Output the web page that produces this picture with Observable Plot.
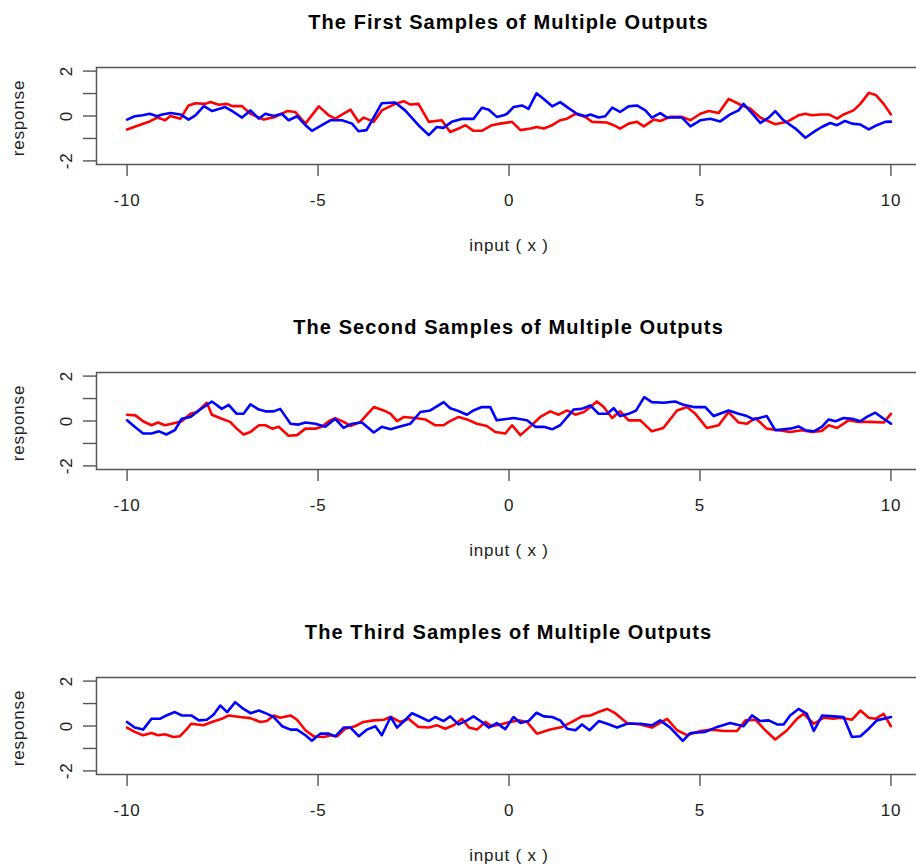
<!DOCTYPE html>
<html>
<head>
<meta charset="utf-8">
<script src="https://cdn.jsdelivr.net/npm/d3@7"></script>
<script src="https://cdn.jsdelivr.net/npm/@observablehq/plot@0.6"></script>
<style>
  html, body { margin: 0; padding: 0; background: #fff; width: 916px; height: 866px; overflow: hidden; }
  .panel { position: relative; width: 916px; height: 305px; overflow: hidden; }
  .title { position: absolute; left: 96px; top: 0; width: 825px; height: 45px;
           font: bold 20px "Liberation Sans", Arial, sans-serif; line-height: 45px;
           text-align: center; letter-spacing: 1.1px; color: #000; }
  .chart { position: absolute; left: 0; top: 45px; max-width: none !important; }
</style>
</head>
<body>
<div id="root"></div>
<script>
const titles = [
  "The First Samples of Multiple Outputs",
  "The Second Samples of Multiple Outputs",
  "The Third Samples of Multiple Outputs"
];
const xTicks = [-10, -5, 0, 5, 10];
const yTicks = [-2, -1, 0, 1, 2];
const yTickLabels = [-2, 0, 2];
const xLabel = "input ( x )";
const yLabel = "response";

const p1Red = [[-10,-0.6],[-9.43,-0.26],[-9.21,-0.07],[-9.0,-0.19],[-8.87,0],[-8.6,-0.12],[-8.39,0.47],[-8.21,0.57],[-7.95,0.54],[-7.82,0.62],[-7.6,0.5],[-7.38,0.54],[-7.25,0.44],[-6.99,0.44],[-6.77,0.1],[-6.42,-0.16],[-6.12,-0.04],[-5.81,0.22],[-5.6,0.18],[-5.33,-0.34],[-4.98,0.43],[-4.72,0.03],[-4.55,-0.12],[-4.15,0.28],[-3.94,-0.26],[-3.8,-0.07],[-3.54,-0.26],[-3.33,0.25],[-2.98,0.54],[-2.76,0.66],[-2.58,0.51],[-2.37,0.54],[-2.1,-0.26],[-1.76,-0.19],[-1.54,-0.71],[-1.32,-0.56],[-1.14,-0.41],[-0.93,-0.66],[-0.71,-0.66],[-0.45,-0.41],[-0.23,-0.34],[0.08,-0.26],[0.3,-0.63],[0.56,-0.56],[0.73,-0.49],[0.91,-0.56],[1.13,-0.41],[1.34,-0.19],[1.52,-0.12],[1.74,0.1],[2.0,-0.04],[2.17,-0.26],[2.56,-0.29],[2.74,-0.41],[2.91,-0.56],[3.13,-0.34],[3.35,-0.26],[3.53,-0.46],[3.79,-0.16],[3.96,-0.22],[4.22,-0.04],[4.53,-0.04],[4.75,-0.19],[5.01,0.1],[5.23,0.22],[5.49,0.13],[5.75,0.76],[6.06,0.5],[6.32,0.32],[6.58,-0.07],[6.97,-0.37],[7.28,-0.26],[7.58,0.03],[7.76,0.1],[7.93,0.03],[8.15,0.07],[8.37,0.07],[8.59,-0.12],[8.76,0.07],[9.02,0.25],[9.2,0.54],[9.42,1.03],[9.6,0.94],[9.81,0.54],[10,0.07]];
const p1Blue = [[-10,-0.16],[-9.8,-0.01],[-9.59,0.03],[-9.41,0.1],[-9.21,-0.01],[-9.08,0.07],[-8.86,0.13],[-8.6,0.07],[-8.39,-0.16],[-8.21,0.03],[-7.99,0.44],[-7.77,0.22],[-7.43,0.4],[-7.21,0.18],[-6.99,-0.07],[-6.77,0.25],[-6.55,-0.12],[-6.38,0.1],[-6.16,0],[-5.95,0.1],[-5.77,-0.19],[-5.55,-0.01],[-5.33,-0.41],[-5.16,-0.66],[-4.9,-0.41],[-4.68,-0.19],[-4.37,-0.19],[-4.11,-0.34],[-3.94,-0.68],[-3.73,-0.63],[-3.33,0.57],[-2.98,0.6],[-2.72,0.25],[-2.37,-0.41],[-2.1,-0.85],[-1.89,-0.49],[-1.72,-0.53],[-1.5,-0.26],[-1.24,-0.13],[-0.93,-0.13],[-0.71,0.37],[-0.53,0.28],[-0.32,-0.04],[-0.14,0.03],[-0.05,0.1],[0.12,0.4],[0.34,0.47],[0.51,0.32],[0.72,1.01],[0.91,0.76],[1.13,0.43],[1.34,0.62],[1.56,0.35],[1.78,0.1],[2.0,-0.01],[2.13,0.07],[2.35,-0.07],[2.52,-0.01],[2.7,0.37],[2.91,0.18],[3.13,0.43],[3.35,0.47],[3.57,0.25],[3.74,-0.07],[3.96,0.13],[4.14,-0.07],[4.53,-0.07],[4.75,-0.46],[5.01,-0.19],[5.27,-0.12],[5.53,-0.24],[5.79,0.07],[6.01,0.25],[6.14,0.54],[6.36,0.13],[6.58,-0.31],[6.8,-0.07],[6.97,0.22],[7.19,-0.19],[7.5,-0.56],[7.76,-0.97],[8.02,-0.66],[8.19,-0.49],[8.41,-0.31],[8.59,-0.41],[8.8,-0.22],[8.98,-0.34],[9.2,-0.38],[9.42,-0.6],[9.63,-0.41],[9.85,-0.26],[10,-0.25]];

const p2Red = [[-10,0.28],[-9.78,0.25],[-9.58,-0.01],[-9.36,-0.19],[-9.19,-0.07],[-9.01,-0.19],[-8.83,-0.12],[-8.57,-0.01],[-8.34,0.32],[-8.17,0.4],[-7.91,0.81],[-7.78,0.28],[-7.52,0.1],[-7.3,-0.04],[-7.13,-0.34],[-6.95,-0.6],[-6.77,-0.49],[-6.55,-0.19],[-6.38,-0.19],[-6.2,-0.34],[-6.03,-0.26],[-5.77,-0.66],[-5.55,-0.63],[-5.33,-0.34],[-5.07,-0.34],[-4.9,-0.26],[-4.72,-0.01],[-4.55,0.13],[-4.33,-0.04],[-4.15,-0.22],[-3.89,-0.04],[-3.54,0.62],[-3.28,0.47],[-3.1,0.32],[-2.93,-0.01],[-2.75,0.18],[-2.45,0.13],[-2.19,0.07],[-1.93,-0.19],[-1.71,-0.19],[-1.58,-0.04],[-1.32,0.18],[-1.1,0.07],[-0.84,-0.12],[-0.58,-0.22],[-0.36,-0.49],[-0.1,-0.56],[0.08,-0.19],[0.3,-0.63],[0.56,-0.24],[0.82,0.18],[1.08,0.43],[1.3,0.28],[1.52,0.47],[1.74,0.28],[1.96,0.4],[2.13,0.62],[2.3,0.87],[2.48,0.62],[2.7,0.13],[2.91,0.43],[3.13,0.03],[3.44,0.03],[3.74,-0.46],[4.04,-0.31],[4.4,0.47],[4.66,0.62],[4.88,0.32],[5.18,-0.31],[5.49,-0.19],[5.75,0.4],[6.01,-0.07],[6.23,-0.12],[6.45,0.13],[6.75,-0.34],[7.06,-0.41],[7.36,-0.49],[7.67,-0.41],[7.93,-0.49],[8.19,-0.44],[8.37,-0.19],[8.59,-0.31],[8.89,0.03],[9.15,-0.04],[9.46,-0.04],[9.81,-0.07],[10,0.32]];
const p2Blue = [[-10,0.03],[-9.8,-0.26],[-9.58,-0.56],[-9.36,-0.56],[-9.16,-0.46],[-8.97,-0.6],[-8.75,-0.41],[-8.57,0.1],[-8.34,0.18],[-8.12,0.47],[-7.78,0.87],[-7.52,0.54],[-7.34,0.72],[-7.13,0.32],[-6.95,0.32],[-6.77,0.74],[-6.55,0.51],[-6.38,0.43],[-6.16,0.43],[-5.99,0.54],[-5.72,-0.12],[-5.51,-0.16],[-5.33,-0.07],[-5.07,-0.12],[-4.81,-0.26],[-4.55,0.1],[-4.33,-0.31],[-4.11,-0.12],[-3.85,-0.07],[-3.54,-0.51],[-3.33,-0.26],[-3.1,-0.37],[-2.88,-0.26],[-2.58,-0.12],[-2.32,0.4],[-2.06,0.47],[-1.71,0.84],[-1.54,0.57],[-1.36,0.47],[-1.1,0.28],[-0.93,0.47],[-0.71,0.62],[-0.49,0.62],[-0.32,0.03],[0.12,0.13],[0.47,0.03],[0.69,-0.26],[0.91,-0.26],[1.13,-0.37],[1.34,-0.19],[1.69,0.51],[1.9,0.54],[2.13,0.69],[2.35,0.32],[2.57,0.32],[2.74,0.57],[2.91,0.22],[3.13,0.32],[3.33,0.47],[3.54,1.06],[3.74,0.84],[4.05,0.81],[4.35,0.87],[4.57,0.72],[4.83,0.62],[5.14,0.62],[5.36,0.22],[5.75,0.47],[6.01,0.32],[6.23,0.22],[6.4,0.07],[6.75,0.22],[6.97,-0.41],[7.36,-0.34],[7.58,-0.24],[7.76,-0.41],[7.98,-0.46],[8.19,-0.26],[8.37,0.07],[8.55,-0.01],[8.76,0.13],[8.98,0.1],[9.2,-0.01],[9.37,0.18],[9.59,0.37],[9.81,0.1],[10,-0.12]];

const p3Red = [[-10,-0.07],[-9.8,-0.26],[-9.58,-0.41],[-9.36,-0.31],[-9.19,-0.41],[-9.01,-0.37],[-8.79,-0.49],[-8.62,-0.46],[-8.45,-0.16],[-8.32,0.1],[-8.0,0.03],[-7.78,0.18],[-7.52,0.32],[-7.34,0.47],[-7.04,0.4],[-6.77,0.35],[-6.51,0.18],[-6.34,0.22],[-6.16,0.47],[-5.99,0.37],[-5.72,0.47],[-5.55,0.28],[-5.33,-0.19],[-5.11,-0.46],[-4.85,-0.49],[-4.68,-0.41],[-4.5,-0.46],[-4.29,-0.12],[-4.03,-0.01],[-3.81,0.18],[-3.54,0.25],[-3.28,0.28],[-3.1,0.4],[-2.85,0.18],[-2.63,0.32],[-2.37,-0.04],[-2.1,-0.07],[-1.88,0.03],[-1.67,-0.12],[-1.45,0.03],[-1.23,0.32],[-1.05,-0.07],[-0.84,-0.16],[-0.62,0.18],[-0.45,-0.01],[-0.23,0.07],[0.03,0.18],[0.25,0.25],[0.47,0.18],[0.73,-0.34],[1.08,-0.16],[1.39,-0.04],[1.65,0.18],[1.91,0.43],[2.13,0.47],[2.34,0.62],[2.57,0.76],[2.78,0.57],[3.09,0.13],[3.44,0.07],[3.74,-0.07],[4.14,0.32],[4.4,-0.19],[4.66,-0.41],[5.01,-0.22],[5.31,-0.16],[5.62,-0.22],[5.97,-0.22],[6.19,0.25],[6.45,0.28],[6.71,-0.19],[6.97,-0.6],[7.28,-0.19],[7.54,0.32],[7.71,0.54],[7.98,0.1],[8.24,0.37],[8.5,0.32],[8.67,0.37],[8.98,0.28],[9.2,0.69],[9.42,0.37],[9.59,0.32],[9.81,0.54],[10,-0.01]];
const p3Blue = [[-10,0.18],[-9.8,-0.07],[-9.58,-0.16],[-9.36,0.32],[-9.14,0.32],[-8.97,0.47],[-8.75,0.62],[-8.56,0.47],[-8.32,0.47],[-8.12,0.25],[-7.91,0.28],[-7.73,0.51],[-7.56,0.91],[-7.38,0.62],[-7.17,1.06],[-6.95,0.76],[-6.77,0.57],[-6.55,0.69],[-6.33,0.54],[-6.16,0.4],[-5.94,-0.01],[-5.72,-0.16],[-5.55,-0.16],[-5.33,-0.41],[-5.16,-0.66],[-4.94,-0.34],[-4.72,-0.34],[-4.55,-0.46],[-4.33,-0.07],[-4.15,-0.07],[-3.93,-0.46],[-3.72,-0.16],[-3.5,-0.01],[-3.33,-0.41],[-3.1,0.4],[-2.93,-0.07],[-2.71,0.28],[-2.54,0.57],[-2.32,0.4],[-2.1,0.22],[-1.93,0.4],[-1.71,0.22],[-1.54,0.43],[-1.32,0.07],[-1.1,0.25],[-0.93,0.43],[-0.71,0.18],[-0.53,-0.07],[-0.32,0.13],[-0.1,-0.14],[0.12,0.4],[0.3,0.13],[0.51,0.22],[0.72,0.59],[0.91,0.43],[1.13,0.4],[1.34,0.25],[1.52,-0.12],[1.74,-0.19],[1.91,0.07],[2.11,-0.19],[2.35,0.22],[2.57,0.1],[2.83,-0.07],[3.09,0.1],[3.44,0.1],[3.74,0.03],[3.96,0.25],[4.22,-0.07],[4.55,-0.66],[4.75,-0.31],[5.14,-0.26],[5.45,-0.04],[5.79,0.13],[6.14,-0.01],[6.36,0.47],[6.58,0.22],[6.8,0.25],[7.02,0.07],[7.19,0.07],[7.36,0.47],[7.58,0.76],[7.8,0.54],[7.98,-0.22],[8.2,0.47],[8.5,0.43],[8.76,0.4],[8.98,-0.49],[9.2,-0.46],[9.42,-0.12],[9.63,0.25],[10,0.4]];

const panels = [
  {title: titles[0], red: p1Red, blue: p1Blue},
  {title: titles[1], red: p2Red, blue: p2Blue},
  {title: titles[2], red: p3Red, blue: p3Blue}
];

const font = '"Liberation Sans", Arial, sans-serif';
const axisColor = "#555";
const root = document.getElementById("root");

for (const p of panels) {
  const panel = document.createElement("div");
  panel.className = "panel";
  const t = document.createElement("div");
  t.className = "title";
  t.textContent = p.title;
  panel.appendChild(t);

  const chart = Plot.plot({
    width: 925,
    height: 260,
    marginLeft: 96,
    marginRight: 4,
    marginTop: 22,
    marginBottom: 141,
    x: {domain: [-10.8, 10.8]},
    y: {domain: [-2.16, 2.16]},
    style: {fontFamily: font, fontSize: "17px", color: "#222", background: "transparent", overflow: "visible", letterSpacing: "0.8px", maxWidth: "none"},
    marks: [
      Plot.axisX({ticks: xTicks, tickSize: 12, tickFormat: () => "", stroke: axisColor, strokeWidth: 1.4, label: null}),
      Plot.axisY({ticks: yTicks, tickSize: 13, tickFormat: () => "", stroke: axisColor, strokeWidth: 1.4, label: null}),
      Plot.line(p.red, {x: d => d[0], y: d => d[1], stroke: "#ff0000", strokeWidth: 2.6}),
      Plot.line(p.blue, {x: d => d[0], y: d => d[1], stroke: "#0000ff", strokeWidth: 2.6}),
      Plot.frame({stroke: axisColor, strokeWidth: 1.5}),
      Plot.text(xTicks, {x: d => d, text: d => String(d), frameAnchor: "bottom", dy: 36, textAnchor: "middle", lineAnchor: "middle", fill: "#222"}),
      Plot.text(yTickLabels, {y: d => d, text: d => String(d), frameAnchor: "left", dx: -30, rotate: -90, textAnchor: "middle", lineAnchor: "middle", fill: "#222"}),
      Plot.text([0], {x: d => d, text: () => xLabel, frameAnchor: "bottom", dy: 81, textAnchor: "middle", lineAnchor: "middle", fill: "#222"}),
      Plot.text([0], {y: d => d, text: () => yLabel, frameAnchor: "left", dx: -78, dy: 2, rotate: -90, textAnchor: "middle", lineAnchor: "middle", fill: "#222"})
    ]
  });
  chart.classList.add("chart");
  panel.appendChild(chart);
  root.appendChild(panel);
}
</script>
</body>
</html>
